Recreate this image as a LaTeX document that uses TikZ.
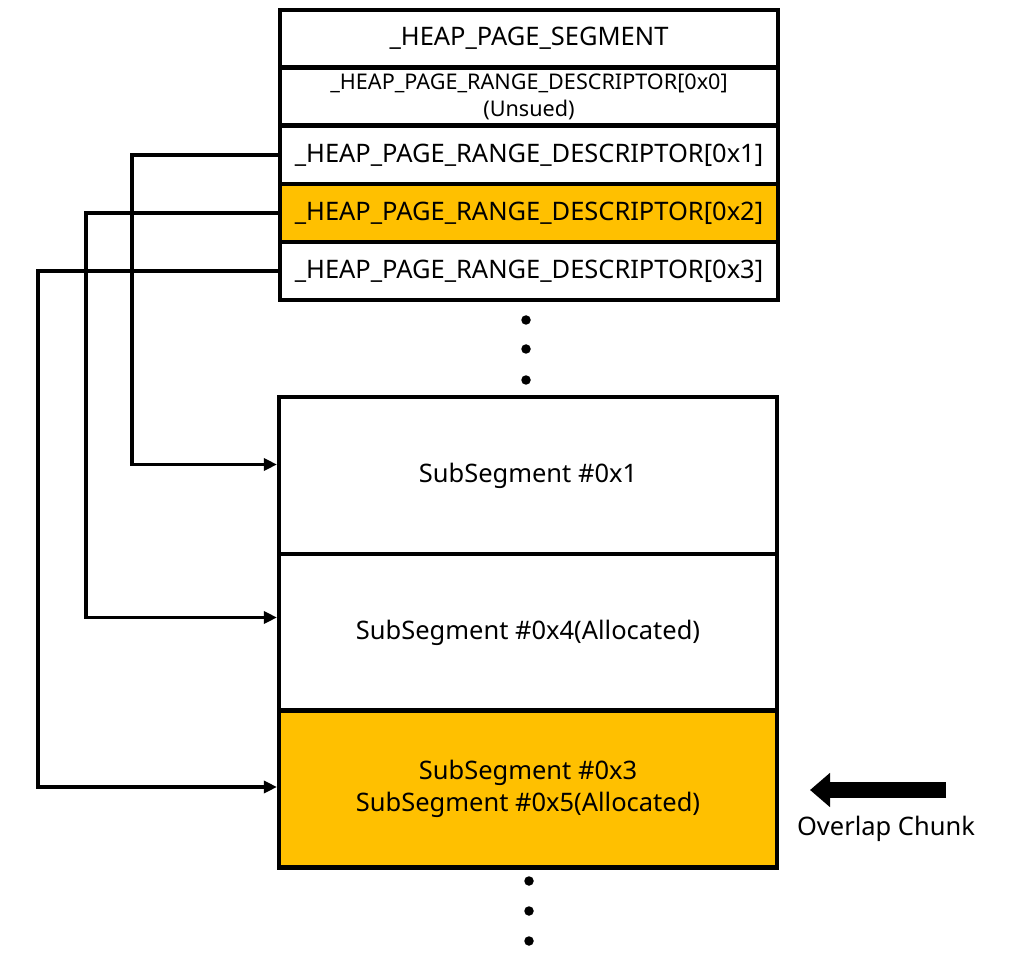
\documentclass[tikz,border=0pt]{standalone}
\usepackage{fontspec}
\setmainfont{Noto Sans}
\usepackage{tikz}
\usetikzlibrary{arrows.meta, positioning}
\definecolor{heapgold}{HTML}{FFC000}

\begin{document}
\begin{tikzpicture}[
    x=0.02cm, y=-0.02cm,
    % Define standard styles for the diagram components
    rowbox/.style={
        rectangle,
        draw=black,
        line width=2.4pt,
        minimum width=9.96cm,
        minimum height=1.16cm,
        align=center,
        inner sep=0pt,
        font=\fontsize{14.5}{18}\selectfont
    },
    subbox/.style={
        rectangle,
        draw=black,
        line width=2.4pt,
        minimum width=9.96cm,
        minimum height=3.14cm,
        align=center,
        inner sep=0pt,
        font=\fontsize{14.5}{18}\selectfont
    },
    hot/.style={fill=heapgold},
    link/.style={
        -{Triangle[length=2.6mm, width=2.4mm]},
        line width=2pt,
        draw=black
    },
    pip/.style={circle, fill=black, inner sep=0pt, minimum size=0.19cm}
]
\useasboundingbox (0,0) rectangle (1022,973);

% --- Nodes ---

% Segment header and range descriptors
\node[rowbox, minimum height=1.14cm] (seg) at (529,38.5) {\_HEAP\_PAGE\_SEGMENT};
\node[rowbox, font=\fontsize{12.3}{15.3}\selectfont] (d0) at (529,96.5) {\_HEAP\_PAGE\_RANGE\_DESCRIPTOR[0x0]\\(Unsued)};
\node[rowbox] (d1) at (529,155) {\_HEAP\_PAGE\_RANGE\_DESCRIPTOR[0x1]};
\node[rowbox, hot] (d2) at (529,213) {\_HEAP\_PAGE\_RANGE\_DESCRIPTOR[0x2]};
\node[rowbox] (d3) at (529,271) {\_HEAP\_PAGE\_RANGE\_DESCRIPTOR[0x3]};

% Dots between the tables
\node[pip] (p1) at (526,320) {};
\node[pip] (p2) at (526,349) {};
\node[pip] (p3) at (526,380) {};

% SubSegments
\node[subbox] (s1) at (528,475.5) {SubSegment \#0x1};
\node[subbox] (s2) at (528,632.5) {SubSegment \#0x4(Allocated)};
\node[subbox, hot] (s3) at (528,789) {SubSegment \#0x3\\SubSegment \#0x5(Allocated)};

\node[pip] (q1) at (529,881) {};
\node[pip] (q2) at (529,911) {};
\node[pip] (q3) at (529,941) {};

% Overlap marker
\coordinate (ovtail) at (946,790);
\coordinate (ovhead) at (810,790);
\node[font=\fontsize{14.5}{18}\selectfont] (ovtext) at (886,829) {Overlap Chunk};

% --- Connections ---
\draw[link] (d1.west) -- ++(-146,0) |- ([yshift=0.22cm]s1.west);
\draw[link] (d2.west) -- ++(-192,0) |- ([yshift=0.3cm]s2.west);
\draw[link] (d3.west) -- ++(-240,0) |- ([yshift=0.04cm]s3.west);
\draw[line width=0.32cm, -{Triangle[length=0.4cm, width=0.66cm]}] (ovtail) -- (ovhead);

\end{tikzpicture}
\end{document}
